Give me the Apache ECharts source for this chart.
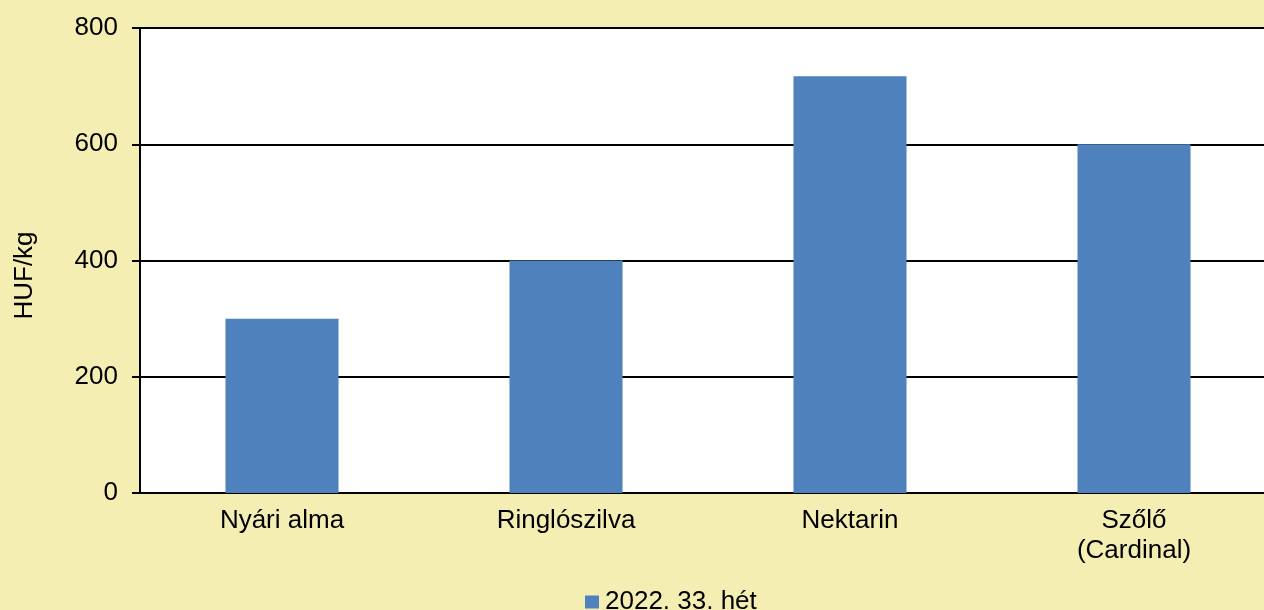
<!DOCTYPE html>
<html><head><meta charset="utf-8">
<script src="https://cdn.jsdelivr.net/npm/echarts@6/dist/echarts.min.js"></script>
<style>html,body{margin:0;padding:0;background:#F4EEB3;}#c{width:1264px;height:610px;}</style>
</head><body><div id="c"></div>
<script>
const categories = ['Nyári alma', 'Ringlószilva', 'Nektarin', 'Szőlő\n(Cardinal)'];
const seriesName = '2022. 33. hét';
const values = [300, 400, 717, 600];
const yTicks = [0, 200, 400, 600, 800];

const chart = echarts.init(document.getElementById('c'));
const font = 'Liberation Sans, Arial, sans-serif';
chart.setOption({
  backgroundColor: '#F4EEB3',
  animation: false,
  textStyle: {fontFamily: font},
  grid: {left: 140, width: 1136, top: 28, bottom: 117, show: true, backgroundColor: '#ffffff', borderWidth: 0,
         containLabel: false, outerBoundsMode: 'none'},
  legend: {
    data: [seriesName], top: 584, left: 580,
    itemWidth: 14, itemHeight: 13, itemGap: 4,
    icon: 'rect',
    textStyle: {fontSize: 26, color: '#000', fontFamily: font, padding: [0,0,0,1]}
  },
  xAxis: {
    type: 'category', data: categories,
    axisLine: {lineStyle: {color: '#000', width: 2}},
    axisTick: {show: false},
    axisLabel: {fontSize: 26, color: '#000', margin: 13, lineHeight: 30, fontFamily: font}
  },
  yAxis: {
    type: 'value', min: yTicks[0], max: yTicks[yTicks.length-1], interval: 200,
    name: 'HUF/kg', nameLocation: 'middle', nameGap: 102, nameRotate: 90,
    nameTextStyle: {fontSize: 26, color: '#000', fontFamily: font, padding: [0,30,0,0]},
    axisLine: {show: true, lineStyle: {color: '#000', width: 2}},
    axisTick: {show: true, length: 8, lineStyle: {color: '#000', width: 2}},
    axisLabel: {fontSize: 26, color: '#000', margin: 22, fontFamily: font},
    splitLine: {lineStyle: {color: '#000', width: 2}}
  },
  series: [{
    name: seriesName, type: 'bar', data: values,
    barWidth: '39.8%', itemStyle: {color: '#4F81BD'}
  }]
});
</script></body></html>
